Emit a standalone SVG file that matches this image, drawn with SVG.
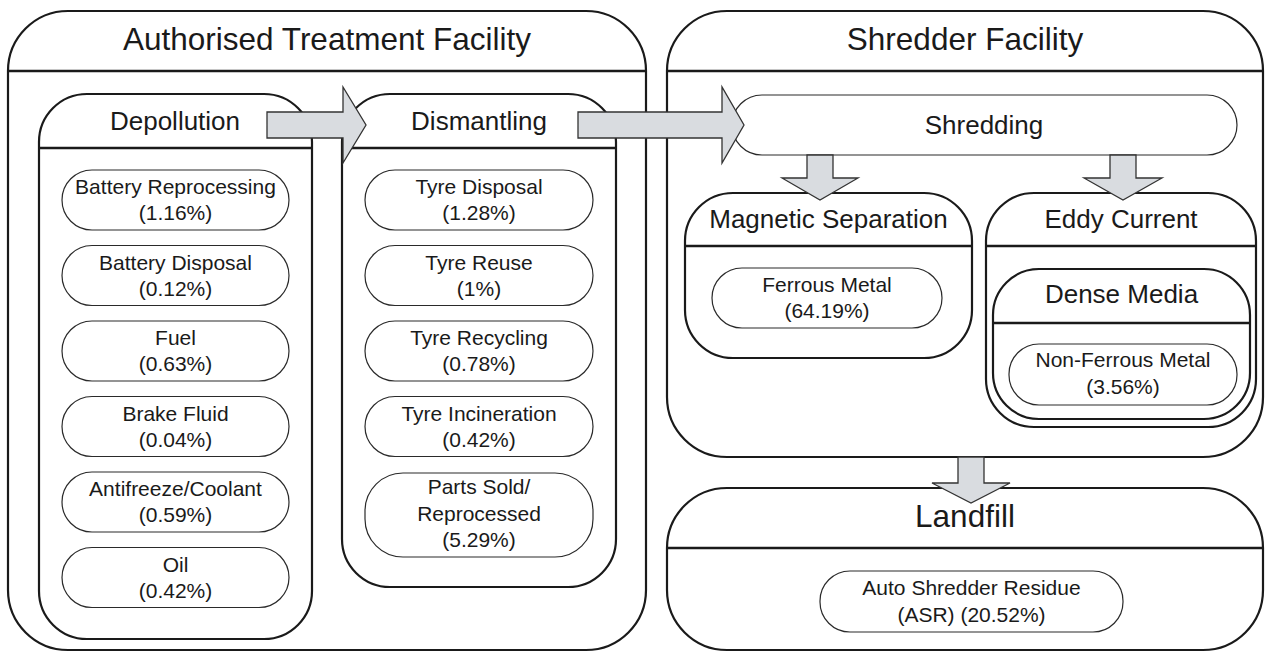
<svg xmlns="http://www.w3.org/2000/svg" width="1270" height="660" viewBox="0 0 1270 660">
<style>
  text { font-family: "Liberation Sans", Arial, Helvetica, sans-serif; fill: #1a1a1a; text-anchor: middle; }
  .big { font-size: 31.5px; }
  .mid { font-size: 26px; }
  .small { font-size: 21px; }
  .box { fill: #fff; stroke: #1a1a1a; stroke-width: 2.2; }
  .hdr { stroke: #1a1a1a; stroke-width: 2.6; fill: none; }
  .pill { fill: #fff; stroke: #2a2a2a; stroke-width: 1.2; }
  .arrow { fill: #d9dce0; stroke: #333; stroke-width: 1.3; stroke-linejoin: miter; }
</style>
<rect width="1270" height="660" fill="#fff"/>

<g id="atf">
  <rect class="box" x="8" y="11" width="638" height="639" rx="60" ry="60"/>
  <line class="hdr" x1="8" y1="71" x2="646" y2="71"/>
  <text class="big" x="327" y="50">Authorised Treatment Facility</text>
</g>

<g id="shredder-facility">
  <rect class="box" x="667" y="11" width="596" height="446" rx="60" ry="60"/>
  <line class="hdr" x1="667" y1="71" x2="1263" y2="71"/>
  <text class="big" x="965" y="50">Shredder Facility</text>
</g>

<g id="landfill">
  <rect class="box" x="667" y="488" width="596" height="162" rx="60" ry="60"/>
  <line class="hdr" x1="667" y1="548" x2="1263" y2="548"/>
  <text class="big" x="965" y="527">Landfill</text>
</g>

<g id="depollution">
  <rect class="box" x="39" y="94" width="273" height="545" rx="48" ry="48"/>
  <line class="hdr" x1="39" y1="148" x2="312" y2="148"/>
  <text class="mid" x="175" y="130">Depollution</text>
</g>

<g id="dismantling">
  <rect class="box" x="342" y="94" width="274" height="493" rx="48" ry="48"/>
  <line class="hdr" x1="342" y1="148" x2="616" y2="148"/>
  <text class="mid" x="479" y="130">Dismantling</text>
</g>

<g id="battery-reprocessing">
  <rect class="pill" x="62" y="170" width="227" height="60" rx="30" ry="30"/>
  <text class="small" x="175.5" y="194">Battery Reprocessing</text>
  <text class="small" x="175.5" y="220">(1.16%)</text>
</g>
<g id="battery-disposal">
  <rect class="pill" x="62" y="245.5" width="227" height="60" rx="30" ry="30"/>
  <text class="small" x="175.5" y="269.5">Battery Disposal</text>
  <text class="small" x="175.5" y="295.5">(0.12%)</text>
</g>
<g id="fuel">
  <rect class="pill" x="62" y="321" width="227" height="60" rx="30" ry="30"/>
  <text class="small" x="175.5" y="345">Fuel</text>
  <text class="small" x="175.5" y="371">(0.63%)</text>
</g>
<g id="brake-fluid">
  <rect class="pill" x="62" y="396.5" width="227" height="60" rx="30" ry="30"/>
  <text class="small" x="175.5" y="420.5">Brake Fluid</text>
  <text class="small" x="175.5" y="446.5">(0.04%)</text>
</g>
<g id="antifreeze">
  <rect class="pill" x="62" y="472" width="227" height="60" rx="30" ry="30"/>
  <text class="small" x="175.5" y="496">Antifreeze/Coolant</text>
  <text class="small" x="175.5" y="522">(0.59%)</text>
</g>
<g id="oil">
  <rect class="pill" x="62" y="547.5" width="227" height="60" rx="30" ry="30"/>
  <text class="small" x="175.5" y="571.5">Oil</text>
  <text class="small" x="175.5" y="597.5">(0.42%)</text>
</g>

<g id="tyre-disposal">
  <rect class="pill" x="365" y="170" width="228" height="60" rx="30" ry="30"/>
  <text class="small" x="479" y="194">Tyre Disposal</text>
  <text class="small" x="479" y="220">(1.28%)</text>
</g>
<g id="tyre-reuse">
  <rect class="pill" x="365" y="245.5" width="228" height="60" rx="30" ry="30"/>
  <text class="small" x="479" y="269.5">Tyre Reuse</text>
  <text class="small" x="479" y="295.5">(1%)</text>
</g>
<g id="tyre-recycling">
  <rect class="pill" x="365" y="321" width="228" height="60" rx="30" ry="30"/>
  <text class="small" x="479" y="345">Tyre Recycling</text>
  <text class="small" x="479" y="371">(0.78%)</text>
</g>
<g id="tyre-incineration">
  <rect class="pill" x="365" y="396.5" width="228" height="60" rx="30" ry="30"/>
  <text class="small" x="479" y="420.5">Tyre Incineration</text>
  <text class="small" x="479" y="446.5">(0.42%)</text>
</g>
<g id="parts-sold">
  <rect class="pill" x="365" y="473" width="228" height="84" rx="38" ry="38"/>
  <text class="small" x="479" y="494">Parts Sold/</text>
  <text class="small" x="479" y="521">Reprocessed</text>
  <text class="small" x="479" y="547">(5.29%)</text>
</g>

<g id="shredding">
  <rect class="pill" x="732" y="95" width="505" height="60" rx="30" ry="30"/>
  <text class="mid" x="984" y="134">Shredding</text>
</g>

<g id="magnetic-separation">
  <rect class="box" x="685" y="193" width="287" height="165" rx="48" ry="48"/>
  <line class="hdr" x1="685" y1="246" x2="972" y2="246"/>
  <text class="mid" x="828.5" y="228">Magnetic Separation</text>
</g>
<g id="ferrous-metal">
  <rect class="pill" x="712" y="268" width="230" height="60" rx="30" ry="30"/>
  <text class="small" x="827" y="292">Ferrous Metal</text>
  <text class="small" x="827" y="318">(64.19%)</text>
</g>

<g id="eddy-current">
  <rect class="box" x="986" y="193" width="270" height="234" rx="48" ry="48"/>
  <line class="hdr" x1="986" y1="246" x2="1256" y2="246"/>
  <text class="mid" x="1121" y="228">Eddy Current</text>
</g>
<g id="dense-media">
  <rect class="box" x="993" y="269" width="257" height="150" rx="46" ry="46"/>
  <line class="hdr" x1="993" y1="323" x2="1250" y2="323"/>
  <text class="mid" x="1121.5" y="303">Dense Media</text>
</g>
<g id="non-ferrous-metal">
  <rect class="pill" x="1009" y="344" width="228" height="61" rx="30" ry="30"/>
  <text class="small" x="1123" y="367">Non-Ferrous Metal</text>
  <text class="small" x="1123" y="394">(3.56%)</text>
</g>

<g id="asr">
  <rect class="pill" x="820" y="571" width="303" height="61" rx="30" ry="30"/>
  <text class="small" x="971.5" y="595">Auto Shredder Residue</text>
  <text class="small" x="971.5" y="622">(ASR) (20.52%)</text>
</g>

<g id="connectors">
  <path class="arrow" d="M267,112 H343 V87 L366,125 L343,163 V138 H267 Z"/>
  <path class="arrow" d="M578,112 H722 V87 L744,125 L722,163 V138 H578 Z"/>
  <path class="arrow" d="M807,155 V178 H782 L820,200 L858,178 H833 V155 Z"/>
  <path class="arrow" d="M1110,155 V178 H1084 L1123,200 L1162,178 H1136 V155 Z"/>
  <path class="arrow" d="M958,457 V483 H932 L971,503 L1010,483 H984 V457 Z"/>
</g>
</svg>
